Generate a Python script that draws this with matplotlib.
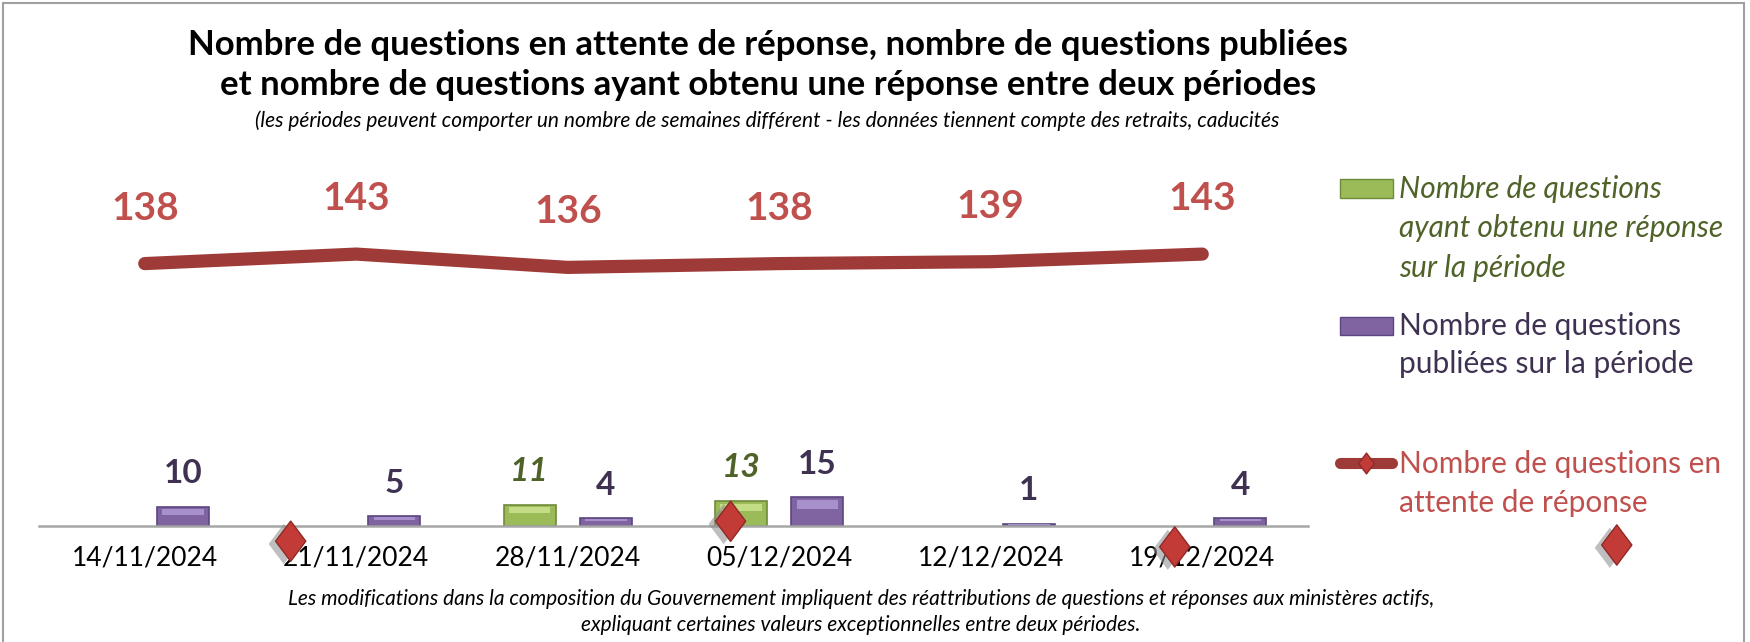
import numpy as np
import matplotlib
matplotlib.use('Agg')
import matplotlib.pyplot as plt
import matplotlib.patheffects as pe
from matplotlib.lines import Line2D
from matplotlib.patches import Rectangle
from matplotlib.path import Path

plt.rcParams['font.family'] = ['Lato', 'DejaVu Sans']

dates = ['14/11/2024', '21/11/2024', '28/11/2024', '05/12/2024', '12/12/2024', '19/12/2024']
pending = [138, 143, 136, 138, 139, 143]
published = [10, 5, 4, 15, 1, 4]
answered = [np.nan, np.nan, 11, 13, np.nan, np.nan]
# diamond markers drawn loose in the source chart (category units, values)
stray_x = [0.69, 2.77, 4.87, 6.96]
stray_y = [-8, 2.5, -11, -10]

title1 = 'Nombre de questions en attente de réponse, nombre de questions publiées'
title2 = 'et nombre de questions ayant obtenu une réponse entre deux périodes'
subtitle = ('(les périodes peuvent comporter un nombre de semaines différent - '
            'les données tiennent compte des retraits, caducités')
foot1 = ('Les modifications dans la composition du Gouvernement impliquent des '
         'réattributions de questions et réponses aux ministères actifs,')
foot2 = 'expliquant certaines valeurs exceptionnelles entre deux périodes.'

GREEN, GREEN_EDGE, GREEN_TXT = '#9BBB59', '#6F8A3A', '#4F6228'
PURPLE, PURPLE_EDGE, PURPLE_TXT = '#8064A2', '#5B4680', '#3F3151'
LINE_RED, RED_TXT = '#9E3B38', '#C0504D'

W, H = 1750, 642
fig = plt.figure(figsize=(W / 100, H / 100), dpi=100)


def fx(px):
    return px / W


def fy(py):
    return 1 - py / H


ax = fig.add_axes([fx(39), fy(526), fx(1308) - fx(39), fy(140) - fy(526)])
ax.set_xlim(-0.5, 5.5)
ax.set_ylim(0, 203)

x = np.arange(len(dates))
bw, off = 0.245, 0.18
ans = np.array(answered, dtype=float)
pub = np.array(published, dtype=float)
has_ans = ~np.isnan(ans)

# bars + a lighter band near the top for the bevel look
ax.bar(x[has_ans] - off, ans[has_ans], bw, color=GREEN, edgecolor=GREEN_EDGE, linewidth=1.2, zorder=2)
ax.bar(x[has_ans] - off, ans[has_ans] * 0.3, bw * 0.8, bottom=ans[has_ans] * 0.6,
       color='#C4DC86', linewidth=0, zorder=2)
ax.bar(x + off, pub, bw, color=PURPLE, edgecolor=PURPLE_EDGE, linewidth=1.2, zorder=2)
ax.bar(x + off, pub * 0.3, bw * 0.8, bottom=pub * 0.6, color='#A890CC', linewidth=0, zorder=2)

for i in range(len(dates)):
    ax.annotate(str(published[i]), (x[i] + off, published[i]), xytext=(0, 24),
                textcoords='offset points', ha='center', va='center',
                fontsize=24, fontweight='bold', color=PURPLE_TXT)
    if has_ans[i]:
        ax.annotate(str(int(ans[i])), (x[i] - off, ans[i]), xytext=(0, 24),
                    textcoords='offset points', ha='center', va='center',
                    fontsize=24, fontweight='bold', style='italic', color=GREEN_TXT)

ax.plot(x, pending, color=LINE_RED, lw=9.5, solid_capstyle='round', zorder=3)
for i in range(len(dates)):
    ax.annotate(str(pending[i]), (x[i], pending[i]), xytext=(0, 40),
                textcoords='offset points', ha='center', va='center',
                fontsize=28, fontweight='bold', color=RED_TXT)

diamond = Path([(0, 1), (0.75, 0), (0, -1), (-0.75, 0), (0, 1)],
               [Path.MOVETO, Path.LINETO, Path.LINETO, Path.LINETO, Path.CLOSEPOLY])
shadow = [pe.SimplePatchShadow(offset=(-5, -2), shadow_rgbFace='#8C8C8C', alpha=0.55), pe.Normal()]
ax.plot(stray_x, stray_y, ls='none', marker=diamond, ms=29, mfc='#C23B37', mec='#8E2A27',
        mew=1, clip_on=False, zorder=4, path_effects=shadow)

for side in ['left', 'right', 'top']:
    ax.spines[side].set_visible(False)
ax.spines['bottom'].set_color('#A6A6A6')
ax.spines['bottom'].set_linewidth(1.8)
ax.set_yticks([])
ax.set_xticks(x, dates)
ax.tick_params(axis='x', length=0, pad=14, labelsize=19, labelcolor='black')

# titles and note
fig.text(fx(768), fy(45), title1, ha='center', va='center', fontsize=25, fontweight='bold')
fig.text(fx(768), fy(85), title2, ha='center', va='center', fontsize=25, fontweight='bold')
fig.text(fx(767), fy(121), subtitle, ha='center', va='center', fontsize=15, style='italic')
fig.text(fx(861), fy(599), foot1, ha='center', va='center', fontsize=15, style='italic')
fig.text(fx(861), fy(625), foot2, ha='center', va='center', fontsize=15, style='italic')

# legend, laid out by hand like the source
fig.add_artist(Rectangle((fx(1340), fy(198)), fx(53), 19 / H, transform=fig.transFigure,
                         facecolor=GREEN, edgecolor=GREEN_EDGE, lw=1))
fig.add_artist(Rectangle((fx(1340), fy(335)), fx(53), 18 / H, transform=fig.transFigure,
                         facecolor=PURPLE, edgecolor=PURPLE_EDGE, lw=1))
fig.add_artist(Line2D([fx(1340), fx(1392)], [fy(463), fy(463)], transform=fig.transFigure,
                      color=LINE_RED, lw=8, solid_capstyle='round'))
fig.add_artist(Line2D([fx(1366)], [fy(463)], transform=fig.transFigure, marker=diamond,
                      ms=15, mfc='#C23B37', mec='#8E2A27', ls='none'))

for k, s in enumerate(['Nombre de questions', 'ayant obtenu une réponse', 'sur la période']):
    fig.text(fx(1399), fy(198 + 39.5 * k), s, va='baseline', fontsize=21.5, style='italic', color=GREEN_TXT)
for k, s in enumerate(['Nombre de questions', 'publiées sur la période']):
    fig.text(fx(1399), fy(335 + 38.5 * k), s, va='baseline', fontsize=21.5, color=PURPLE_TXT)
for k, s in enumerate(['Nombre de questions en', 'attente de réponse']):
    fig.text(fx(1399), fy(473 + 39 * k), s, va='baseline', fontsize=21.5, color=RED_TXT)

# outer frame
fig.add_artist(Rectangle((fx(3), -0.05), fx(1744) - fx(3), fy(3) + 0.05, transform=fig.transFigure,
                         fill=False, edgecolor='#A0A0A0', lw=1.5))

fig.savefig('out.png', dpi=100)
